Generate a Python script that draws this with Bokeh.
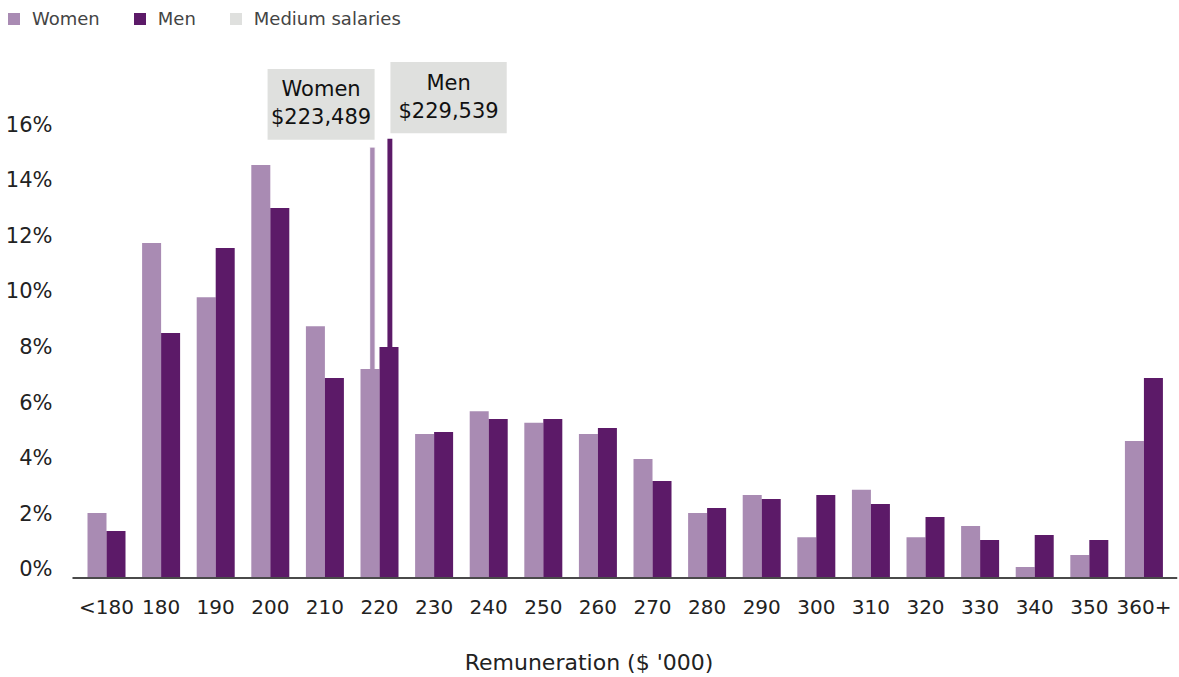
import numpy as np
from bokeh.plotting import figure
from bokeh.models import Range1d, FixedTicker, Legend, LegendItem
from bokeh.embed import file_html
from bokeh.resources import INLINE
from bokeh.core.properties import value

# ---------------- data ----------------
categories = ["<180", "180", "190", "200", "210", "220", "230", "240", "250", "260",
              "270", "280", "290", "300", "310", "320", "330", "340", "350", "360+"]
women = [2.34, 12.05, 10.10, 14.86, 9.06, 7.52, 5.18, 6.00, 5.58, 5.18,
         4.28, 2.34, 2.99, 1.47, 3.17, 1.47, 1.87, 0.40, 0.83, 4.93]
men = [1.69, 8.81, 11.87, 13.31, 7.19, 8.31, 5.25, 5.72, 5.72, 5.40,
       3.49, 2.52, 2.84, 2.99, 2.66, 2.19, 1.37, 1.55, 1.37, 7.19]
median_groups = ["Women", "Men"]
median_salaries = ["$223,489", "$229,539"]
median_bin = "220"
y_ticks = [0, 2, 4, 6, 8, 10, 12, 14, 16]
y_labels = [f"{t}%" for t in y_ticks]

# ---------------- style ----------------
C_W = "#A98BB3"
C_M = "#5C1A68"
C_G = "#DFE0DE"
FONT = "DejaVu Sans"

xs = np.arange(len(categories))
bw = 0.348
x_start, x_end = -1.9414, 19.615
y_start = -0.054
y_end = y_start + 579 / 27.8

p = figure(width=1179, height=677, output_backend="svg", toolbar_location=None,
           x_range=Range1d(x_start, x_end), y_range=Range1d(y_start, y_end),
           min_border_left=0, min_border_right=2, min_border_top=0, min_border_bottom=98)
p.xgrid.visible = False
p.ygrid.visible = False
p.yaxis.visible = False
p.outline_line_color = None
p.background_fill_color = "white"

# median lines (decorative heights)
b = categories.index(median_bin)
med_x = [b - 0.13, b + 0.19]
med_top = [15.5, 15.8]
p.vbar(x=[med_x[0]], top=[med_top[0]], width=0.10, fill_color=C_W, line_color="white", line_width=1)
p.vbar(x=[med_x[1]], top=[med_top[1]], width=0.09, fill_color=C_M, line_color=None)

rw = p.vbar(x=xs - bw / 2, top=women, width=bw, fill_color=C_W, line_color=None)
rm = p.vbar(x=xs + bw / 2, top=men, width=bw, fill_color=C_M, line_color=None)

# baseline
p.segment(x0=[xs[0] - 0.623], x1=[x_end], y0=[0], y1=[0], line_color="#4a4a4a", line_width=2)

# y tick labels
p.text(x=[-0.989] * len(y_ticks), y=y_ticks, text=y_labels, text_align="right",
       text_baseline="middle", y_offset=-8.5, text_font=value(FONT),
       text_font_size="21px", text_color="#222222")

# annotation boxes
box_left = [med_x[0] - 1.92, med_x[1] + 0.01]
box_right = [med_x[0] + 0.04, med_x[1] + 2.14]
box_bottom = [med_top[0] + 0.26, med_top[1] + 0.20]
box_top = [med_top[0] + 2.81, med_top[1] + 2.76]
rg = p.quad(left=box_left, right=box_right, bottom=box_bottom, top=box_top,
            fill_color=C_G, line_color=None)
cx = [(l + r) / 2 for l, r in zip(box_left, box_right)]
p.text(x=cx, y=[box_top[0] - 0.72, box_top[1] - 0.76], text=median_groups,
       text_align="center", text_baseline="middle", text_font=value(FONT),
       text_font_size="21px", text_color="#111111")
p.text(x=cx, y=[box_bottom[0] + 0.82, box_bottom[1] + 0.80], text=median_salaries,
       text_align="center", text_baseline="middle", text_font=value(FONT),
       text_font_size="21px", text_color="#111111")

# x axis
xa = p.xaxis[0]
xa.ticker = FixedTicker(ticks=[float(i) for i in xs])
xa.major_label_overrides = {float(i): c for i, c in enumerate(categories)}
xa.major_tick_line_color = None
xa.minor_tick_line_color = None
xa.axis_line_color = None
xa.major_label_text_font = FONT
xa.major_label_text_font_size = "20px"
xa.major_label_text_color = "#222222"
xa.major_label_standoff = 9
xa.axis_label = "Remuneration ($ '000)"
xa.axis_label_text_font = FONT
xa.axis_label_text_font_size = "22px"
xa.axis_label_text_font_style = "normal"
xa.axis_label_text_color = "#222222"
xa.axis_label_standoff = 28

legend = Legend(items=[LegendItem(label="Women", renderers=[rw]),
                       LegendItem(label="Men", renderers=[rm]),
                       LegendItem(label="Medium salaries", renderers=[rg])],
                location=(6, 550), orientation="horizontal",
                padding=0, margin=0, spacing=32, label_standoff=11,
                glyph_width=15, glyph_height=15, label_height=20,
                label_text_font=FONT, label_text_font_size="18px",
                label_text_color="#444444", border_line_color=None,
                background_fill_alpha=0)
p.add_layout(legend)

open("out.html", "w").write(file_html(p, INLINE))
